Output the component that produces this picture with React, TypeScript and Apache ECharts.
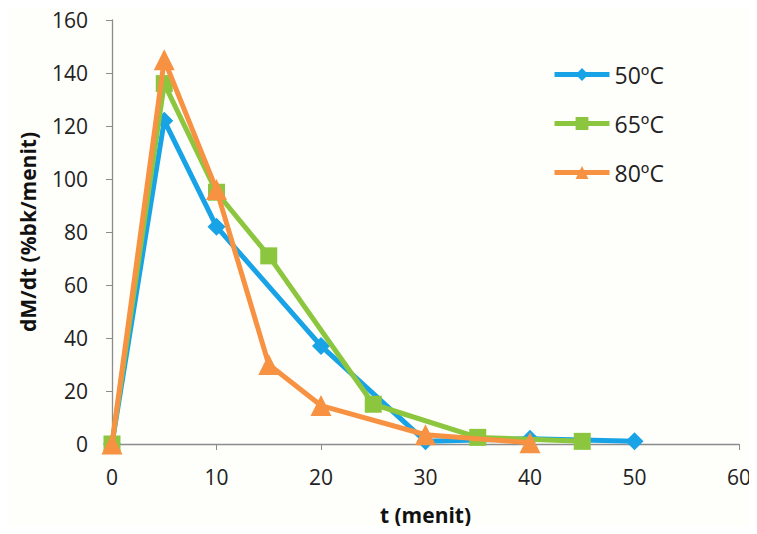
import React, { useEffect, useRef } from "react";
import * as echarts from "echarts";

const seriesNames = ["50ºC", "65ºC", "80ºC"];
const t50 = [0, 5, 10, 20, 30, 40, 50];
const v50 = [0, 122, 82, 37, 1, 2, 1];
const t65 = [0, 5, 10, 15, 25, 35, 45];
const v65 = [0, 136, 95, 71, 15, 2.5, 1];
const t80 = [0, 5, 10, 15, 20, 30, 40];
const v80 = [0, 145, 96, 30, 14.5, 3.5, 0.5];
const colors = ["#18a3e6", "#8cc63f", "#f79243"];
const symbols = ["diamond", "rect", "triangle"];
const symbolSizes = [18, 17, 21];

const font = "'Open Sans', 'Liberation Sans', sans-serif";

export default function App() {
  const ref = useRef<HTMLDivElement>(null);
  useEffect(() => {
    if (!ref.current) return;
    const chart = echarts.init(ref.current, null, { renderer: "svg" });
    const xs = [t50, t65, t80];
    const vs = [v50, v65, v80];
    chart.setOption({
      animation: false,
      backgroundColor: "#fefefb",
      grid: { left: 112, right: 18, top: 20, bottom: 90 },
      legend: {
        orient: "vertical",
        left: 552,
        top: 63,
        padding: 0,
        itemWidth: 55,
        itemHeight: 16,
        itemGap: 26,
        lineStyle: { width: 5 },
        textStyle: { fontSize: 23, color: "#222", fontFamily: font },
        data: seriesNames,
      },
      xAxis: {
        type: "value",
        min: 0,
        max: 60,
        interval: 10,
        name: "t (menit)",
        nameLocation: "middle",
        nameGap: 60,
        nameTextStyle: { fontSize: 21, fontWeight: "bold", color: "#111", fontFamily: font },
        axisLine: { show: true, lineStyle: { color: "#8c8c8c", width: 1.3 } },
        axisTick: { show: true, length: 6, lineStyle: { color: "#8c8c8c" } },
        axisLabel: { fontSize: 21, color: "#222", fontFamily: font, margin: 22 },
        splitLine: { show: false },
      },
      yAxis: {
        type: "value",
        min: 0,
        max: 160,
        interval: 20,
        name: "dM/dt (%bk/menit)",
        nameLocation: "middle",
        nameGap: 74,
        nameRotate: 90,
        nameTextStyle: { fontSize: 21, fontWeight: "bold", color: "#111", fontFamily: font },
        axisLine: { show: true, lineStyle: { color: "#8c8c8c", width: 1.3 } },
        axisTick: { show: true, length: 6, lineStyle: { color: "#8c8c8c" } },
        axisLabel: { fontSize: 21, color: "#222", fontFamily: font, margin: 24 },
        splitLine: { show: false },
      },
      series: seriesNames.map((name, i) => ({
        name,
        type: "line",
        data: xs[i].map((x, j) => [x, vs[i][j]]),
        symbol: symbols[i],
        symbolSize: symbolSizes[i],
        lineStyle: { width: 5, color: colors[i] },
        itemStyle: { color: colors[i] },
        z: 2 + i,
      })),
    });
    return () => chart.dispose();
  }, []);
  return <div ref={ref} style={{ width: 757, height: 534, margin: -8 }} />;
}
